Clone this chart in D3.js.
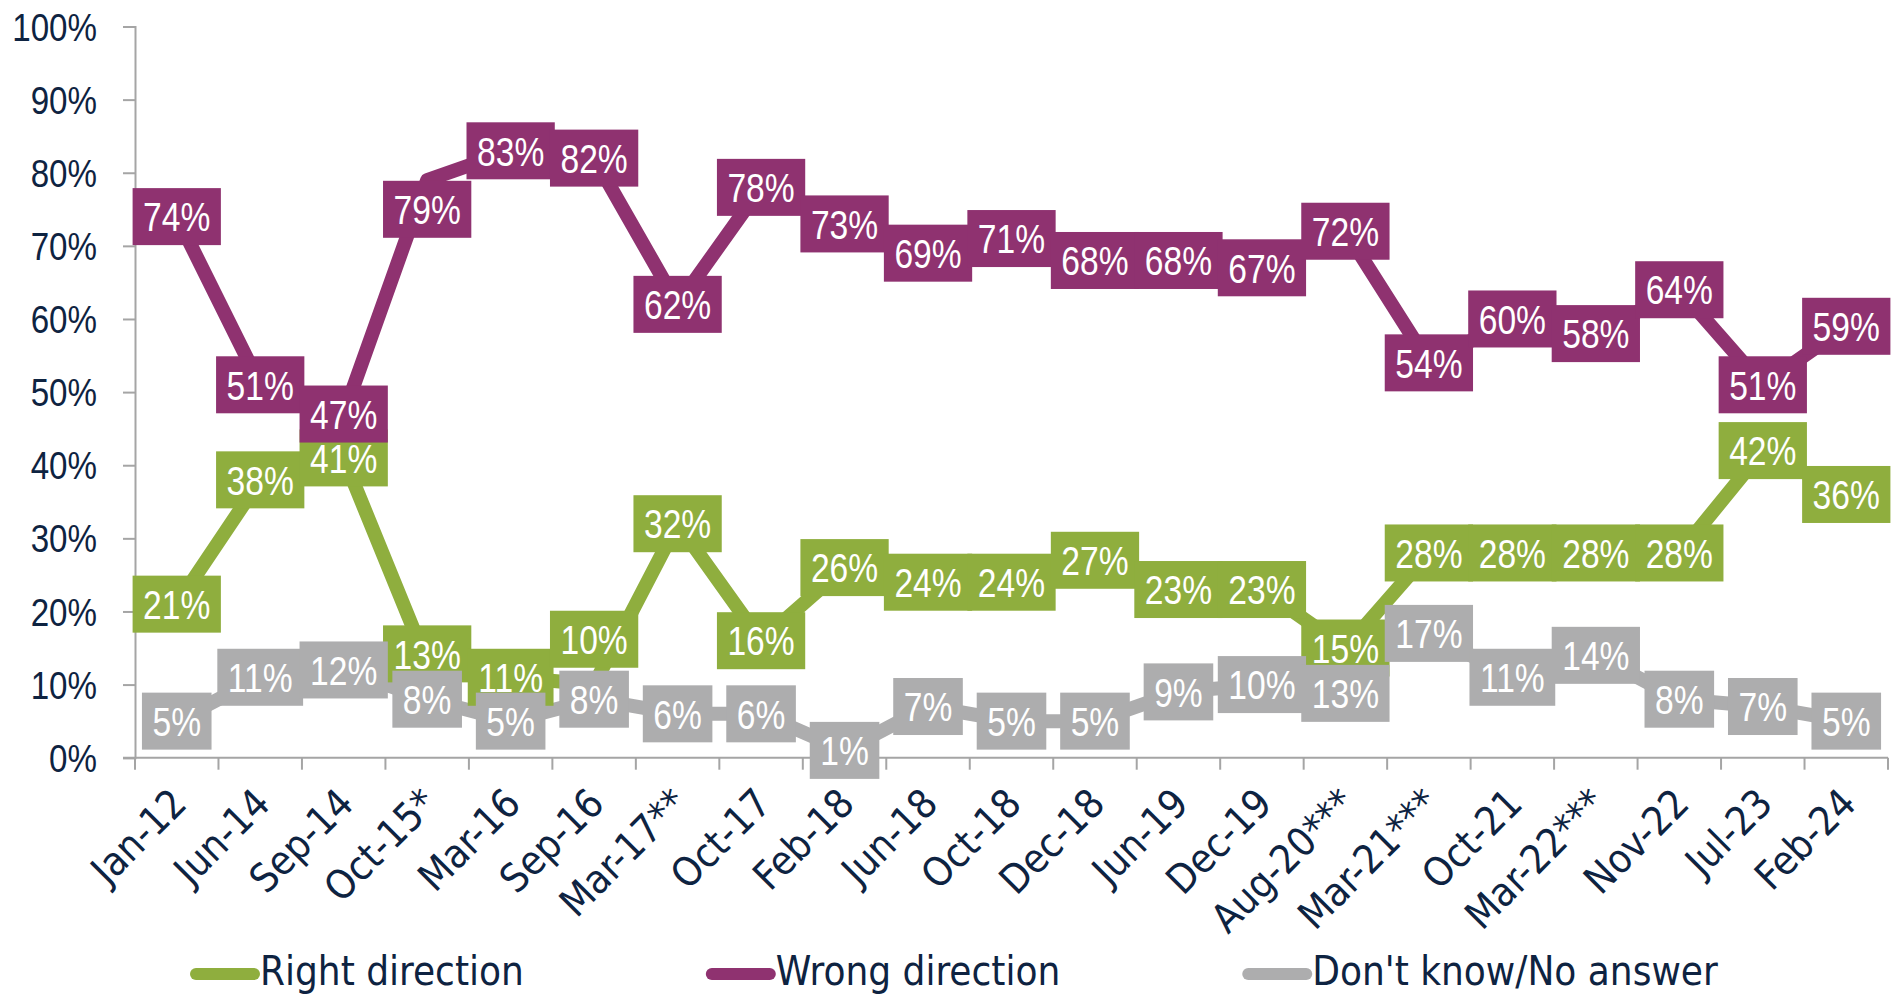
<!DOCTYPE html>
<html>
<head>
<meta charset="utf-8">
<script src="https://cdn.jsdelivr.net/npm/d3@7"></script>
<style>
  body { margin: 0; background: #fff; }
  svg { display: block; }
</style>
</head>
<body>
<div id="chart"></div>
<script>
var categories = ["Jan-12","Jun-14","Sep-14","Oct-15*","Mar-16","Sep-16","Mar-17**","Oct-17","Feb-18","Jun-18",
  "Oct-18","Dec-18","Jun-19","Dec-19","Aug-20***","Mar-21***","Oct-21","Mar-22***","Nov-22","Jul-23","Feb-24"];
var rightDirection = [21,38,41,13,11,10,32,16,26,24,24,27,23,23,15,28,28,28,28,42,36];
var wrongDirection = [74,51,47,79,83,82,62,78,73,69,71,68,68,67,72,54,60,58,64,51,59];
var dontKnow = [5,11,12,8,5,8,6,6,1,7,5,5,9,10,13,17,11,14,8,7,5];
var seriesNames = ["Right direction","Wrong direction","Don't know/No answer"];
var yTicks = [0,10,20,30,40,50,60,70,80,90,100];

// labels that were dragged off their points in the original (series index, category, shift in points)
var labelNudges = [
  {s: 0, cat: "Oct-15*", dv: 1.2},
  {s: 0, cat: "Sep-16", dv: 6.2},
  {s: 1, cat: "Oct-15*", dv: -4},
  {s: 2, cat: "Aug-20***", dv: -4.2}
];

var colors = ["#8FAE3E", "#8F3270", "#ADADAE"];
var textColor = "#0E2341";
var axisColor = "#A5A5A5";
var narrowFont = "'Liberation Sans', Arial, sans-serif";
var condFont = "'DejaVu Sans Condensed', 'DejaVu Sans', sans-serif";

var width = 1898, height = 998;
var plotLeft = 135, plotRight = 1888, plotTop = 26.5, plotBottom = 757.7;

var series = [rightDirection, wrongDirection, dontKnow].map(function(vals, i) {
  return {name: seriesNames[i], color: colors[i], values: vals};
});

var svg = d3.select("#chart").append("svg")
    .attr("width", width)
    .attr("height", height);

var x = d3.scaleBand().domain(categories).range([plotLeft, plotRight]);
var y = d3.scaleLinear().domain([0, 100]).range([plotBottom, plotTop]);
var cx = function(i) { return x(categories[i]) + x.bandwidth() / 2; };

// y axis
var yAxis = svg.append("g")
    .attr("transform", "translate(" + plotLeft + ",0)")
    .call(d3.axisLeft(y).tickValues(yTicks).tickSize(12).tickFormat(""));
yAxis.select(".domain").attr("stroke", axisColor).attr("stroke-width", 2);
yAxis.selectAll(".tick line").attr("stroke", axisColor).attr("stroke-width", 2);

svg.append("g").selectAll("text")
    .data(yTicks)
    .enter().append("text")
    .attr("transform", function(d) { return "translate(97," + y(d) + ") scale(0.85,1)"; })
    .attr("text-anchor", "end")
    .attr("dy", "0.36em")
    .attr("fill", textColor)
    .style("font-family", narrowFont)
    .style("font-size", "39px")
    .text(function(d) { return d + "%"; });

// x axis line + ticks at band boundaries
var xg = svg.append("g");
xg.append("line")
    .attr("x1", plotLeft - 12).attr("x2", plotRight)
    .attr("y1", plotBottom).attr("y2", plotBottom)
    .attr("stroke", axisColor).attr("stroke-width", 2);
xg.selectAll(".xt")
    .data(categories.map(function(c) { return x(c); }).concat([plotRight]))
    .enter().append("line")
    .attr("x1", function(d) { return d; }).attr("x2", function(d) { return d; })
    .attr("y1", plotBottom).attr("y2", plotBottom + 12)
    .attr("stroke", axisColor).attr("stroke-width", 2);
xg.selectAll(".xl")
    .data(categories)
    .enter().append("text")
    .attr("text-anchor", "end")
    .attr("transform", function(d, i) {
      return "translate(" + (cx(i) + 12) + "," + (plotBottom + 48) + ") rotate(-45)";
    })
    .attr("fill", textColor)
    .style("font-family", condFont)
    .style("font-stretch", "condensed")
    .style("font-size", "40px")
    .text(function(d) { return d; });

// lines
var line = d3.line()
    .x(function(d, i) { return cx(i); })
    .y(function(d) { return y(d); });

svg.selectAll(".series")
    .data(series)
    .enter().append("path")
    .attr("d", function(s) { return line(s.values); })
    .attr("fill", "none")
    .attr("stroke", function(s) { return s.color; })
    .attr("stroke-width", 14)
    .attr("stroke-linejoin", "round");

// labels (boxes)
series.forEach(function(s, si) {
  var g = svg.append("g");
  s.values.forEach(function(v, i) {
    var nudge = labelNudges.filter(function(n) { return n.s === si && n.cat === categories[i]; })[0];
    var lv = v + (nudge ? nudge.dv : 0);
    var lg = g.append("g").attr("transform", "translate(" + cx(i) + "," + y(lv) + ")");
    var r = lg.append("rect").attr("fill", s.color);
    var t = lg.append("text")
        .attr("text-anchor", "middle")
        .attr("dy", "0.36em")
        .attr("transform", "scale(0.82,1)")
        .attr("fill", "#fff")
        .style("font-family", narrowFont)
        .style("font-size", "41px")
        .text(v + "%");
    var w = t.node().getComputedTextLength() * 0.82 + 21;
    r.attr("x", -w / 2).attr("y", -28.5).attr("width", w).attr("height", 57);
  });
});

// legend
var lx = 190, ly = 971;
series.forEach(function(s) {
  var g = svg.append("g").attr("transform", "translate(" + lx + "," + ly + ")");
  g.append("line")
      .attr("x1", 6).attr("x2", 64)
      .attr("y1", 3).attr("y2", 3)
      .attr("stroke", s.color).attr("stroke-width", 12)
      .attr("stroke-linecap", "round");
  var t = g.append("text")
      .attr("x", 70)
      .attr("dy", "0.36em")
      .attr("fill", textColor)
      .style("font-family", condFont)
      .style("font-stretch", "condensed")
      .style("font-size", "40px")
      .text(s.name);
  lx += 70 + t.node().getComputedTextLength() + 182;
});
</script>
</body>
</html>
